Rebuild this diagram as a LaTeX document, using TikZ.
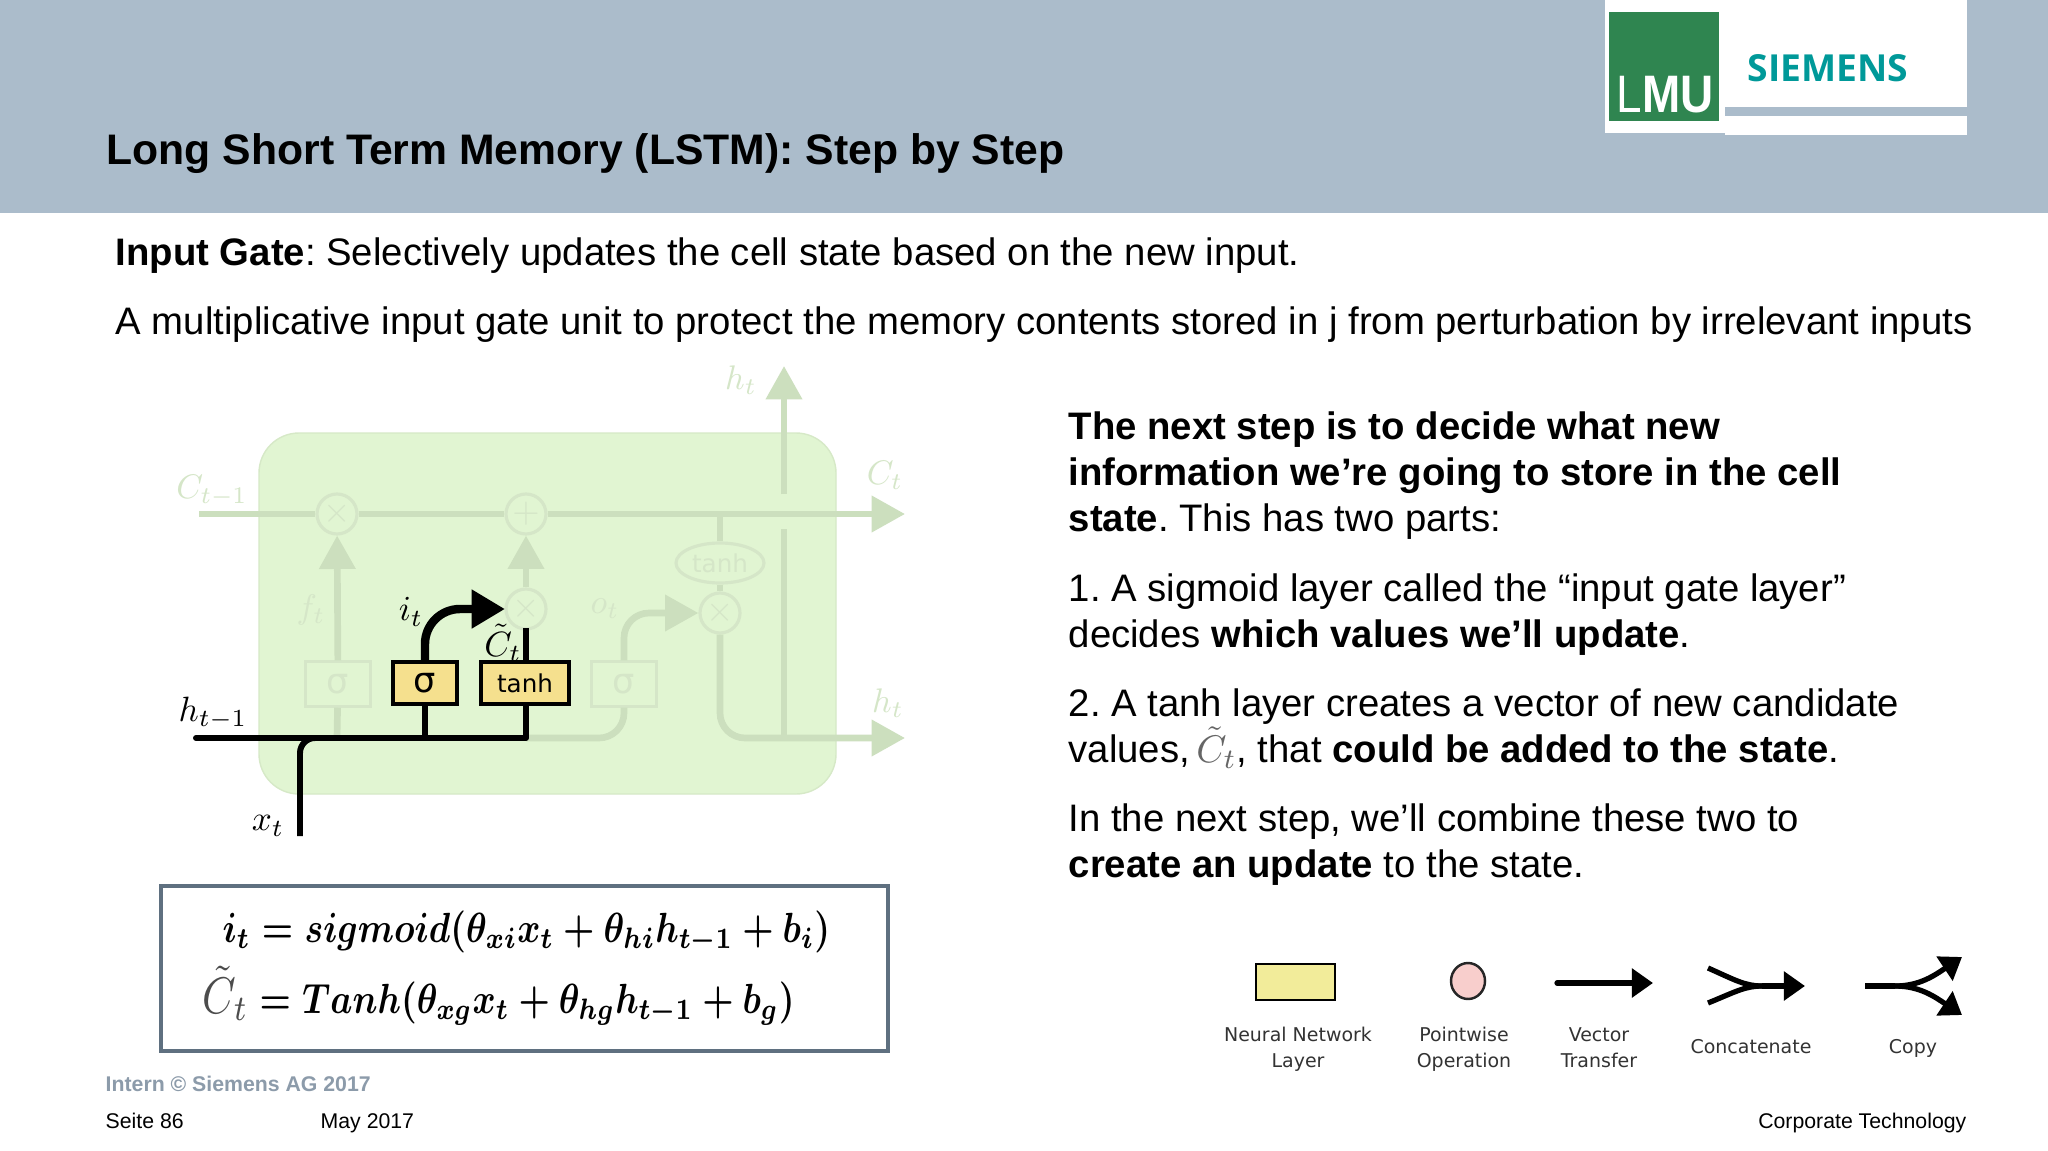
\documentclass[tikz,border=0pt]{standalone}
\usepackage[no-math]{fontspec}
\usepackage{amsmath,bm}
\setmainfont{Liberation Sans}
\newfontfamily\legendfont{DejaVu Sans}
\newfontfamily\logofont{Open Sans}
\usetikzlibrary{calc,arrows.meta,positioning,shapes.geometric}
\definecolor{hdrblue}{HTML}{ABBCCB}
\definecolor{lmugreen}{HTML}{2F8550}
\definecolor{siemensteal}{HTML}{009999}
\definecolor{fadefill}{HTML}{E1F5D2}
\definecolor{fadeline}{HTML}{CCDFBE}
\definecolor{fadetext}{HTML}{D5E6C8}
\definecolor{gatefill}{HTML}{F5E08E}
\definecolor{legendfill}{HTML}{F2EC9A}
\definecolor{legendpink}{HTML}{F8CECC}
\definecolor{eqborder}{HTML}{5F7080}
\definecolor{footgray}{HTML}{8C9BAA}
\newcommand{\eqbold}[1]{{\boldmath$#1$}}
\tikzset{
	bodytext/.style={anchor=north west,inner sep=0pt,align=left,font=\fontsize{10.9pt}{13.1pt}\selectfont},
	foottext/.style={anchor=base west,inner sep=0pt,font=\fontsize{6.05pt}{7pt}\selectfont},
	legendtext/.style={inner sep=0pt,align=center,text=black!80,font=\legendfont\fontsize{5.4pt}{7.4pt}\selectfont},
	fadeop/.style={circle,draw=fadetext,fill=fadefill,line width=0.9pt,minimum size=4mm,inner sep=0pt,text=fadetext},
	fadelayer/.style={rectangle,draw=fadetext,fill=fadefill,line width=0.7pt,minimum width=6.5mm,minimum height=4.5mm,inner sep=0pt,text=fadetext,font=\legendfont\fontsize{10pt}{11pt}\selectfont},
	gatelayer/.style={rectangle,draw=black,fill=gatefill,line width=0.9pt,minimum height=4.2mm,inner sep=0pt,text=black,font=\legendfont\fontsize{7pt}{8pt}\selectfont},
	fadewire/.style={draw=fadeline,line width=1.9pt},
	fadearrow/.style={fadewire,-{Triangle[length=9.5pt,width=10pt]}},
	blackwire/.style={draw=black,line width=1.7pt},
	legendarrow/.style={draw=black,line width=1.5pt,-{Triangle[length=6pt,width=8pt]}},
	fadelabel/.style={inner sep=0pt,text=fadetext,scale=0.97},
	blacklabel/.style={inner sep=0pt,text=black,scale=1.0},
	eqline/.style={anchor=base west,inner sep=0pt,xscale=1.0,yscale=1.2}
}
\begin{document}
\frenchspacing
\begin{tikzpicture}[x=0.1mm,y=-0.1mm]
	\useasboundingbox (0,0) rectangle (2048,1151);
	\fill[white] (0,0) rectangle (2048,1151);
	\fill[hdrblue] (0,0) rectangle (2048,213);
	\fill[white] (1605,0) rectangle (1725,133);
	\fill[white] (1725,0) rectangle (1967,107);
	\fill[white] (1725,116) rectangle (1967,135);
	\fill[lmugreen] (1609,12) rectangle (1719,121);
	\node[anchor=base west,inner sep=0pt,text=white,font=\fontsize{15pt}{16pt}\selectfont,xscale=0.87] (lmulogo) at (1616,113) {L\textbf{MU}};
	\node[anchor=base west,inner sep=0pt,text=siemensteal,font=\logofont\bfseries\fontsize{10.6pt}{12pt}\selectfont] (siemenslogo) at (1747,82) {SIEMENS};
	\node[anchor=base west,inner sep=0pt,font=\bfseries\fontsize{12.15pt}{14pt}\selectfont] (title) at (106,165) {Long Short Term Memory (LSTM): Step by Step};
	\node[bodytext] (inputgate) at (115,237) {\textbf{Input Gate}: Selectively updates the cell state based on the new input.};
	\node[bodytext] (multgate) at (115,306) {A multiplicative input gate unit to protect the memory contents stored in j from perturbation by irrelevant inputs};
	\node[bodytext] (nextstep) at (1068,411) {\textbf{The next step is to decide what new}\\\textbf{information we’re going to store in the cell}\\\textbf{state}. This has two parts:};
	\node[bodytext] (partone) at (1068,573) {1. A sigmoid layer called the “input gate layer”\\decides \textbf{which values we’ll update}.};
	\node[bodytext] (parttwo) at (1068,688) {2. A tanh layer creates a vector of new candidate\\values,\,$\textcolor{black!60}{\tilde{C}_t}$, that \textbf{could be added to the state}.};
	\node[bodytext] (partend) at (1068,803) {In the next step, we’ll combine these two to\\\textbf{create an update} to the state.};

	\fill[fadefill,draw=fadefill!95!black,rounded corners=4mm] (259,433) rectangle (836,794);
	\coordinate (cellin) at (199,514);
	\coordinate (cellout) at (905,514);
	\coordinate (tapc) at (720,514);
	\coordinate (hidbase) at (337,738);
	\coordinate (hidend) at (526,738);
	\coordinate (hidout) at (905,738);
	\coordinate (hidtop) at (784,366);
	\coordinate (hidup) at (784,494);
	\coordinate (hiddown) at (784,529);
	\coordinate (hidmeet) at (784,738);
	\node[fadeop] (forgetop) at (337,514) {$\times$};
	\node[fadeop] (addop) at (526,514) {$+$};
	\node[fadeop] (inputop) at (526,609) {$\times$};
	\node[fadeop] (outputop) at (720,613) {$\times$};
	\node[ellipse,draw=fadetext,fill=fadefill,line width=0.9pt,minimum width=8.8mm,minimum height=4mm,inner sep=0pt,text=fadetext,font=\legendfont\fontsize{7pt}{8pt}\selectfont] (tanhout) at (720,563) {tanh};
	\node[fadelayer] (sigmaf) at (338,684) {σ};
	\node[fadelayer] (sigmao) at (624,684) {σ};
	\node[gatelayer,minimum width=6.4mm,font=\legendfont\fontsize{10pt}{11pt}\selectfont] (sigmai) at (425,683) {σ};
	\node[gatelayer,minimum width=8.8mm] (tanhc) at (525,683) {tanh};
	\draw[fadewire] (cellin) -- (forgetop);
	\draw[fadewire] (forgetop) -- (addop);
	\draw[fadearrow] (addop) -- (cellout);
	\draw[fadearrow] (sigmaf) -- (forgetop);
	\draw[fadewire] (hidbase) -- (sigmaf);
	\draw[fadearrow] (inputop) -- (addop);
	\draw[fadewire] (tapc) -- (tanhout);
	\draw[fadewire] (tanhout) -- (outputop);
	\draw[fadewire,rounded corners=2.5mm] (hidend) -| (sigmao);
	\draw[fadearrow,rounded corners=2.5mm] (sigmao) |- (outputop);
	\draw[fadearrow,rounded corners=2.5mm] (outputop) |- (hidout);
	\draw[fadewire] (hiddown) -- (hidmeet);
	\draw[fadearrow] (hidup) -- (hidtop);
	\node[fadelabel] (cprev) at (212,491) {$C_{t-1}$};
	\node[fadelabel] (cnow) at (885,475) {$C_t$};
	\node[fadelabel] (htop) at (741,380) {$h_t$};
	\node[fadelabel] (hright) at (888,703) {$h_t$};
	\node[fadelabel] (flabel) at (311,610) {$f_t$};
	\node[fadelabel] (olabel) at (605,609) {$o_t$};

	\coordinate (hprev) at (196,738);
	\coordinate (xin) at (300,836);
	\coordinate (hjoin) at (425,738);
	\coordinate (hstop) at (526,738);
	\coordinate (itip) at (505,609);
	\coordinate (cstop) at (526,628);
	\draw[blackwire,line cap=round] (hprev) -- (hstop);
	\draw[blackwire,rounded corners=1.5mm] (xin) |- (hjoin);
	\draw[blackwire] (hjoin) -- (sigmai);
	\draw[blackwire] (hstop) -- (tanhc.south -| hstop);
	\draw[blackwire] (tanhc.north -| cstop) -- (cstop);
	\draw[draw=black,line width=2.4pt,rounded corners=3.5mm,-{Triangle[length=9.5pt,width=10.5pt]}] (sigmai) |- (itip);
	\node[blacklabel] (hprevlabel) at (213,713) {$h_{t-1}$};
	\node[blacklabel] (xlabel) at (268,826) {$x_t$};
	\node[blacklabel] (ilabel) at (411,612) {$i_t$};
	\node[blacklabel] (clabel) at (503,643) {$\tilde{C}_t$};

	\node[draw=eqborder,line width=1.1pt,minimum width=72.7mm,minimum height=16.5mm,inner sep=0pt] (eqbox) at (524.5,968.5) {};
	\node[eqline] (eqinput) at (222,942) {\eqbold{i_t = sigmoid(\theta_{xi}x_t + \theta_{hi}h_{t-1} + b_i)}};
	\node[eqline,scale=1.22,text=black!70] (eqctilde) at (202,1013) {$\tilde{C}_t$};
	\node[eqline] (eqcand) at (259,1013) {\eqbold{= Tanh(\theta_{xg}x_t + \theta_{hg}h_{t-1} + b_g)}};

	\node[draw=black,line width=0.7pt,fill=legendfill,minimum width=7.9mm,minimum height=3.6mm,inner sep=0pt] (legendlayer) at (1295.5,982) {};
	\node[ellipse,draw=black!85,line width=0.7pt,fill=legendpink,minimum width=3.4mm,minimum height=3.6mm,inner sep=0pt] (legendop) at (1468,981) {};
	\coordinate (vecstart) at (1557,983);
	\coordinate (vecend) at (1653,983);
	\draw[legendarrow,line cap=round] (vecstart) -- (vecend);
	\coordinate (concatup) at (1708,968);
	\coordinate (concatdown) at (1708,1003);
	\coordinate (concatmid) at (1762,986);
	\coordinate (concatend) at (1805,986);
	\draw[draw=black,line width=1.5pt] (concatup) .. controls (1735,980) and (1745,986) .. (concatmid);
	\draw[draw=black,line width=1.5pt] (concatdown) .. controls (1735,992) and (1745,986) .. (concatmid);
	\draw[legendarrow] (concatmid) -- (concatend);
	\coordinate (copystart) at (1865,986);
	\coordinate (copymid) at (1895,986);
	\coordinate (copyup) at (1962,957);
	\coordinate (copydown) at (1962,1015);
	\draw[draw=black,line width=1.5pt] (copystart) -- (copymid);
	\draw[legendarrow] (copymid) .. controls (1920,986) and (1935,975) .. (copyup);
	\draw[legendarrow] (copymid) .. controls (1920,986) and (1935,997) .. (copydown);
	\node[legendtext] (labellayer) at (1298,1049) {Neural Network\\Layer};
	\node[legendtext] (labelop) at (1464,1049) {Pointwise\\Operation};
	\node[legendtext] (labelvec) at (1599,1048) {Vector\\Transfer};
	\node[legendtext,anchor=base] (labelconcat) at (1751,1053) {Concatenate};
	\node[legendtext,anchor=base] (labelcopy) at (1913,1053) {Copy};

	\node[foottext,text=footgray] (intern) at (105,1091) {\textbf{Intern © Siemens AG 2017}};
	\node[foottext] (seite) at (105,1128) {Seite 86};
	\node[foottext] (datum) at (320,1128) {May 2017};
	\node[foottext,anchor=base east] (corptech) at (1967,1128) {Corporate Technology};
\end{tikzpicture}
\end{document}
